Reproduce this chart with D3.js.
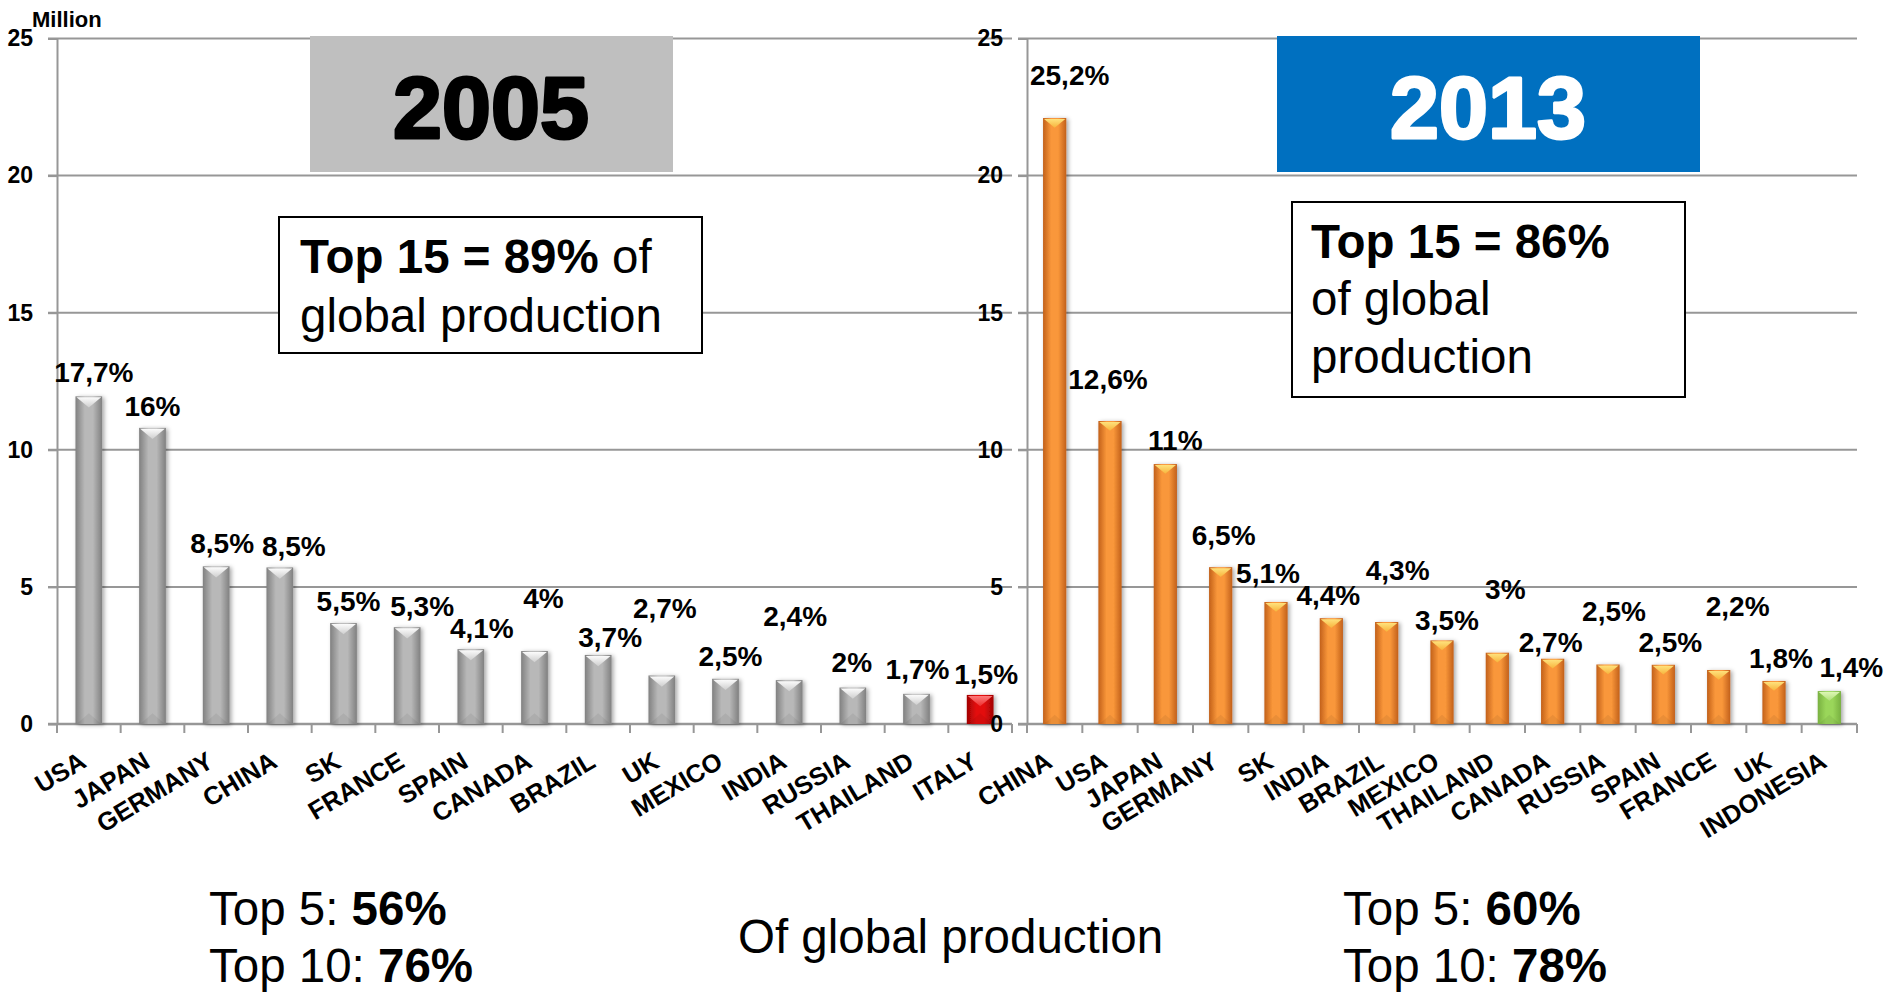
<!DOCTYPE html>
<html><head><meta charset="utf-8">
<script src="https://cdn.jsdelivr.net/npm/d3@7"></script>
<style>
body{margin:0;background:#fff;}
svg{display:block;font-family:"Liberation Sans",Arial,sans-serif;}
</style>
</head><body>
<svg id="chart" width="1895" height="993"></svg>
<script>
// ---------------- DATA ----------------
const categories2005 = ["USA","JAPAN","GERMANY","CHINA","SK","FRANCE","SPAIN","CANADA","BRAZIL","UK","MEXICO","INDIA","RUSSIA","THAILAND","ITALY"];
const values2005 = [11.95,10.8,5.75,5.71,3.68,3.53,2.73,2.66,2.52,1.77,1.65,1.6,1.33,1.1,1.06];
const shares2005 = ["17,7%","16%","8,5%","8,5%","5,5%","5,3%","4,1%","4%","3,7%","2,7%","2,5%","2,4%","2%","1,7%","1,5%"];

const categories2013 = ["CHINA","USA","JAPAN","GERMANY","SK","INDIA","BRAZIL","MEXICO","THAILAND","CANADA","RUSSIA","SPAIN","FRANCE","UK","INDONESIA"];
const values2013 = [22.1,11.05,9.48,5.72,4.45,3.86,3.72,3.05,2.6,2.38,2.17,2.16,1.97,1.57,1.2];
const shares2013 = ["25,2%","12,6%","11%","6,5%","5,1%","4,4%","4,3%","3,5%","3%","2,7%","2,5%","2,5%","2,2%","1,8%","1,4%"];

const yTicks = [0,5,10,15,20,25];
const droppedOut = ["ITALY"];      // in 2005 top 15, not in 2013
const newEntry = ["INDONESIA"];    // new in 2013 top 15

const yearTitles = ["2005","2013"];
const top15Text = [["Top 15 = 89%"," of","global production"],["Top 15 = 86%","of global","production"]];
const topSummary2005 = [["Top 5: ","56%"],["Top 10: ","76%"]];
const topSummary2013 = [["Top 5: ","60%"],["Top 10: ","78%"]];
const middleNote = "Of global production";
const unitLabel = "Million";

// label offsets (layout, pixels relative to bar top-centre)
const labelDx2005 = [5,0,6,14,5,15,11,9,12,3,5,6,-1,1,6];
const labelDy2005 = [-14,-12,-13,-11,-12,-11,-11,-43,-8,-57,-13,-54,-16,-15,-11];
const labelDx2013 = [15,-2,10,3,-8,-3,11,5,8,-2,6,7,19,7,22];
const labelDy2013 = [-33,-32,-14,-22,-19,-13,-42,-10,-54,-7,-43,-13,-54,-13,-14];

// ---------------- DRAW ----------------
const svg = d3.select("#chart");
svg.append("rect").attr("width",1895).attr("height",993).attr("fill","#fff");
const defs = svg.append("defs");

const schemes = {
  gray:   {edge:"#808080", mid:"#b8b8b8", tri:["#ffffff","#cfcfcf"]},
  orange: {edge:"#c2601a", mid:"#f9973a", tri:["#ffe680","#f7b53c"]},
  red:    {edge:"#a00000", mid:"#e31010", tri:["#ff8080","#ee3030"]},
  green:  {edge:"#78b040", mid:"#9ad65a", tri:["#e0f8b8","#b0e07a"]}
};
Object.entries(schemes).forEach(([k,s])=>{
  const lg = defs.append("linearGradient").attr("id","grad-"+k).attr("x1",0).attr("x2",1).attr("y1",0).attr("y2",0);
  lg.append("stop").attr("offset","0%").attr("stop-color",s.edge);
  lg.append("stop").attr("offset","35%").attr("stop-color",s.mid);
  lg.append("stop").attr("offset","65%").attr("stop-color",s.mid);
  lg.append("stop").attr("offset","100%").attr("stop-color",s.edge);
  const tg = defs.append("linearGradient").attr("id","tri-"+k).attr("x1",0).attr("x2",0).attr("y1",0).attr("y2",1);
  tg.append("stop").attr("offset","0%").attr("stop-color",s.tri[0]);
  tg.append("stop").attr("offset","100%").attr("stop-color",s.tri[1]);
});
const f = defs.append("filter").attr("id","shadow").attr("x","-50%").attr("y","-10%").attr("width","200%").attr("height","130%");
f.append("feDropShadow").attr("dx",2).attr("dy",1).attr("stdDeviation",2).attr("flood-color","#000").attr("flood-opacity",0.35);

const yScale = d3.scaleLinear().domain([0,25]).range([724,38.5]);
const gridColor = "#979797";

function panel(cfg){
  const x = d3.scaleBand().domain(cfg.cats).range([cfg.x0,cfg.x1]).padding(0);
  const bw = x.bandwidth();
  const g = svg.append("g");

  // gridlines
  g.selectAll("line.grid").data(yTicks.filter(t=>t>0)).join("line")
    .attr("x1",cfg.x0-9).attr("x2",cfg.x1)
    .attr("y1",d=>yScale(d)).attr("y2",d=>yScale(d))
    .attr("stroke",gridColor).attr("stroke-width",2);

  // y axis
  const ya = g.append("g").attr("transform",`translate(${cfg.x0},0)`)
    .call(d3.axisLeft(yScale).tickValues(yTicks).tickSize(9).tickSizeOuter(0).tickPadding(15));
  ya.select(".domain").attr("stroke",gridColor).attr("stroke-width",2);
  ya.selectAll(".tick line").attr("stroke",gridColor).attr("stroke-width",2);
  ya.selectAll(".tick text").attr("font-size",23).attr("font-weight","bold").attr("fill","#000")
    .attr("font-family","'Liberation Sans',Arial,sans-serif");

  // x axis line and boundary ticks
  g.append("line").attr("x1",cfg.x0-9).attr("x2",cfg.x1).attr("y1",yScale(0)).attr("y2",yScale(0))
    .attr("stroke",gridColor).attr("stroke-width",2.5);
  const bounds = cfg.cats.map(c=>x(c)).concat([cfg.x1]);
  g.selectAll("line.xt").data(bounds).join("line")
    .attr("x1",d=>d).attr("x2",d=>d).attr("y1",yScale(0)).attr("y2",yScale(0)+9)
    .attr("stroke",gridColor).attr("stroke-width",2);

  // bars
  const w = bw*0.42;
  const data = cfg.cats.map((c,i)=>({c,v:cfg.vals[i],s:cfg.shares[i],dx:cfg.dx[i],dy:cfg.dy[i]}));
  const bars = g.selectAll("g.bar").data(data).join("g").attr("class","bar");
  const scheme = d => droppedOut.includes(d.c) && cfg.year==="2005" ? "red" :
                      (newEntry.includes(d.c) && cfg.year==="2013" ? "green" : cfg.base);
  bars.append("rect")
    .attr("x",d=>x(d.c)+(bw-w)/2).attr("width",w)
    .attr("y",d=>yScale(d.v)).attr("height",d=>yScale(0)-yScale(d.v))
    .attr("fill",d=>`url(#grad-${scheme(d)})`).attr("filter","url(#shadow)");
  bars.append("polygon")
    .attr("points",d=>{const l=x(d.c)+(bw-w)/2, t=yScale(d.v);
      return `${l+1},${t+1} ${l+w-1},${t+1} ${l+w/2},${t+w*0.42}`;})
    .attr("fill",d=>`url(#tri-${scheme(d)})`).attr("opacity",0.95);
  bars.append("polygon")
    .attr("points",d=>{const l=x(d.c)+(bw-w)/2, b=yScale(0);
      return `${l+1},${b} ${l+w-1},${b} ${l+w/2},${b-w*0.4}`;})
    .attr("fill","#000").attr("opacity",0.06);

  // value labels
  g.selectAll("text.val").data(data).join("text")
    .attr("x",d=>x(d.c)+bw/2+d.dx).attr("y",d=>yScale(d.v)+d.dy)
    .attr("text-anchor","middle").attr("font-size",28).attr("font-weight","bold").attr("fill","#000")
    .text(d=>d.s);

  // category labels
  g.selectAll("text.cat").data(cfg.cats).join("text")
    .attr("transform",c=>`translate(${x(c)+bw/2-1},766) rotate(-31)`)
    .attr("text-anchor","end").attr("font-size",25.5).attr("font-weight","bold").attr("fill","#000")
    .text(c=>c);
}

panel({year:"2005",cats:categories2005,vals:values2005,shares:shares2005,dx:labelDx2005,dy:labelDy2005,x0:57,x1:1012,base:"gray"});
panel({year:"2013",cats:categories2013,vals:values2013,shares:shares2013,dx:labelDx2013,dy:labelDy2013,x0:1027,x1:1857,base:"orange"});

// unit label
svg.append("text").attr("x",32).attr("y",27).attr("font-size",22).attr("font-weight","bold").text(unitLabel);

// year title boxes
svg.append("rect").attr("x",310).attr("y",36).attr("width",363).attr("height",136).attr("fill","#bfbfbf");
svg.append("text").attr("x",491).attr("y",138).attr("text-anchor","middle").attr("font-size",88)
  .attr("font-weight","bold").attr("fill","#000").attr("stroke","#000").attr("stroke-width",3)
  .attr("stroke-linejoin","round").text(yearTitles[0]);
svg.append("rect").attr("x",1277).attr("y",36).attr("width",423).attr("height",136).attr("fill","#0070c0");
svg.append("text").attr("x",1488).attr("y",138).attr("text-anchor","middle").attr("font-size",88)
  .attr("font-weight","bold").attr("fill","#fff").attr("stroke","#fff").attr("stroke-width",3)
  .attr("stroke-linejoin","round").text(yearTitles[1]);

// "Top 15" boxes
svg.append("rect").attr("x",279).attr("y",217).attr("width",423).attr("height",136)
  .attr("fill","#fff").attr("stroke","#000").attr("stroke-width",2);
const t1 = svg.append("text").attr("x",300).attr("y",273).attr("font-size",47.5);
t1.append("tspan").attr("font-weight","bold").text(top15Text[0][0]);
t1.append("tspan").text(top15Text[0][1]);
svg.append("text").attr("x",300).attr("y",332).attr("font-size",47.5).text(top15Text[0][2]);

svg.append("rect").attr("x",1292).attr("y",202).attr("width",393).attr("height",195)
  .attr("fill","#fff").attr("stroke","#000").attr("stroke-width",2);
svg.append("text").attr("x",1311).attr("y",258).attr("font-size",47.5).attr("font-weight","bold").text(top15Text[1][0]);
svg.append("text").attr("x",1311).attr("y",315).attr("font-size",47.5).text(top15Text[1][1]);
svg.append("text").attr("x",1311).attr("y",373).attr("font-size",47.5).text(top15Text[1][2]);

// bottom summaries
function summary(x, lines){
  lines.forEach((ln,i)=>{
    const t = svg.append("text").attr("x",x).attr("y",925+i*57).attr("font-size",47.5);
    t.append("tspan").text(ln[0]);
    t.append("tspan").attr("font-weight","bold").text(ln[1]);
  });
}
summary(209, topSummary2005);
summary(1343, topSummary2013);
svg.append("text").attr("x",738).attr("y",953).attr("font-size",47.5).text(middleNote);
</script>
</body></html>
